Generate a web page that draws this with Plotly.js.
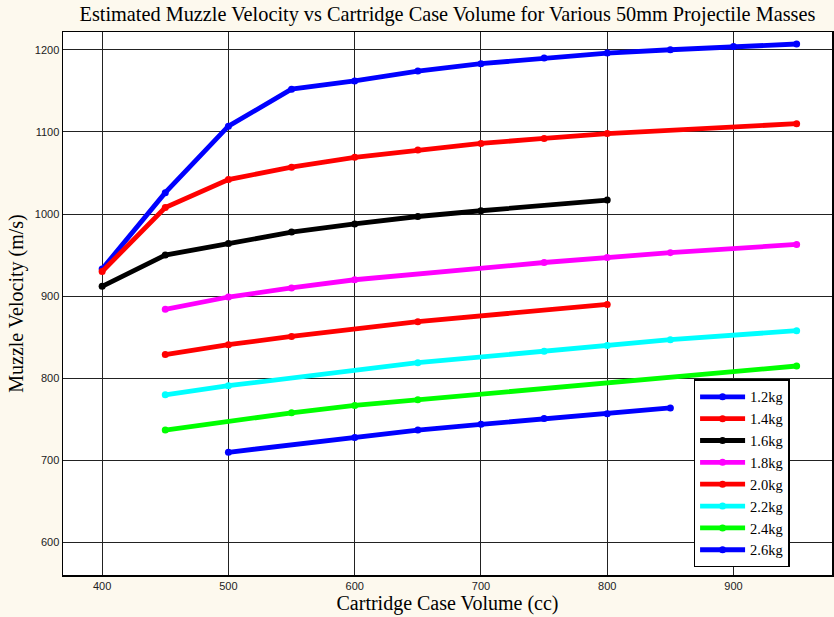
<!DOCTYPE html>
<html>
<head>
<meta charset="utf-8">
<script src="https://cdn.plot.ly/plotly-3.0.1.min.js"></script>
<style>
html, body { margin: 0; padding: 0; background: #fdf9ee; }
#chart { width: 834px; height: 617px; }
</style>
</head>
<body>
<div id="chart"></div>
<script>
// Data
const seriesNames = ["1.2kg", "1.4kg", "1.6kg", "1.8kg", "2.0kg", "2.2kg", "2.4kg", "2.6kg"];

const x12 = [400, 450, 500, 550, 600, 650, 700, 750, 800, 850, 900, 950];
const y12 = [933, 1026, 1107, 1152, 1162, 1174, 1183, 1190, 1196, 1200, 1204, 1207];

const x14 = [400, 450, 500, 550, 600, 650, 700, 750, 800, 950];
const y14 = [930, 1008, 1042, 1057, 1069, 1078, 1086, 1092, 1098, 1110];

const x16 = [400, 450, 500, 550, 600, 650, 700, 800];
const y16 = [912, 950, 964, 978, 988, 997, 1004, 1017];

const x18 = [450, 500, 550, 600, 750, 800, 850, 950];
const y18 = [884, 899, 910, 920, 941, 947, 953, 963];

const x20 = [450, 500, 550, 650, 800];
const y20 = [829, 841, 851, 869, 890];

const x22 = [450, 500, 650, 750, 800, 850, 950];
const y22 = [780, 791, 819, 833, 840, 847, 858];

const x24 = [450, 550, 600, 650, 950];
const y24 = [737, 758, 767, 774, 815];

const x26 = [500, 600, 650, 700, 750, 800, 850];
const y26 = [710, 728, 737, 744, 751, 757, 764];

const seriesColors = ["#0000ff", "#ff0000", "#000000", "#ff00ff", "#ff0000", "#00ffff", "#00ff00", "#0000ff"];

const xTickVals = [400, 500, 600, 700, 800, 900];
const yTickVals = [600, 700, 800, 900, 1000, 1100, 1200];

const xs = [x12, x14, x16, x18, x20, x22, x24, x26];
const ys = [y12, y14, y16, y18, y20, y22, y24, y26];

const traces = seriesNames.map((name, i) => ({
  type: "scatter",
  mode: "lines+markers",
  name: name,
  x: xs[i],
  y: ys[i],
  line: { color: seriesColors[i], width: 4.8 },
  marker: { color: seriesColors[i], size: 7, symbol: "circle" }
}));

const serif = "Liberation Serif, Times New Roman, serif";

const layout = {
  width: 834,
  height: 617,
  paper_bgcolor: "#fdf9ee",
  plot_bgcolor: "#ffffff",
  margin: { l: 63, r: 2, t: 32, b: 42 },
  showlegend: true,
  title: {
    text: "Estimated Muzzle Velocity vs Cartridge Case Volume for Various 50mm Projectile Masses",
    font: { family: serif, size: 20.3, color: "#000" },
    x: 0.5365, xanchor: "center", y: 0.978, yanchor: "middle"
  },
  xaxis: {
    range: [369, 978],
    tickvals: xTickVals,
    ticktext: xTickVals.map(String),
    showgrid: true,
    gridcolor: "#222222",
    gridwidth: 1,
    zeroline: false,
    showline: true,
    mirror: true,
    linecolor: "#000",
    linewidth: 1.5,
    ticks: "",
    tickfont: { family: "Liberation Sans, Arial, sans-serif", size: 11, color: "#222" },
    title: {
      text: "Cartridge Case Volume (cc)",
      font: { family: serif, size: 20, color: "#000" },
      standoff: 3
    }
  },
  yaxis: {
    range: [560.6, 1221.6],
    tickvals: yTickVals,
    ticktext: yTickVals.map(String),
    showgrid: true,
    gridcolor: "#222222",
    gridwidth: 1,
    zeroline: false,
    showline: true,
    mirror: true,
    linecolor: "#000",
    linewidth: 1.5,
    ticks: "",
    tickfont: { family: "Liberation Sans, Arial, sans-serif", size: 11, color: "#222" },
    title: {
      text: "Muzzle Velocity (m/s)",
      font: { family: serif, size: 20, color: "#000" },
      standoff: 6
    }
  },
  legend: {
    x: 0.82, xanchor: "left",
    y: 0.014, yanchor: "bottom",
    bgcolor: "#ffffff",
    bordercolor: "#000",
    borderwidth: 1.5,
    itemwidth: 45,
    font: { family: serif, size: 14.5, color: "#000" },
    tracegroupgap: 0
  }
};

Plotly.newPlot("chart", traces, layout, { displayModeBar: false, staticPlot: true });
</script>
</body>
</html>
